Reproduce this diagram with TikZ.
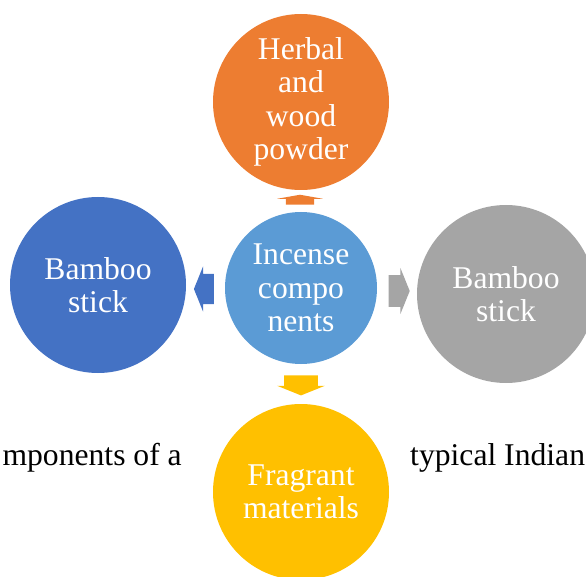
\documentclass[tikz,border=0pt]{standalone}
\usepackage{fontspec}
\setmainfont{Liberation Serif}
\usetikzlibrary{shapes.arrows}
\definecolor{cOrange}{HTML}{ED7D31}
\definecolor{cBlue}{HTML}{5B9BD5}
\definecolor{cDarkBlue}{HTML}{4472C4}
\definecolor{cGray}{HTML}{A5A5A5}
\definecolor{cGold}{HTML}{FFC000}

\begin{document}
\begin{tikzpicture}[
  bubble/.style={circle, inner sep=0pt, text=white, align=center,
    font=\fontsize{27}{28.5}\selectfont},
  blockarr/.style={single arrow, draw=none, inner xsep=0pt, inner ysep=0.45cm,
    single arrow head extend=0.22cm, single arrow tip angle=136},
  caption/.style={font=\fontsize{27}{30}\selectfont, inner sep=0pt}
]
  \useasboundingbox (0,0) rectangle (17.58,17.28);
  % caption text behind the figure
  \node [caption, anchor=base east] (capL) at (5.46, 3.33) {mponents of a};
  \node [caption, anchor=base west] (capR) at (12.3, 3.33) {typical Indian};
  % circles
  \node [bubble, fill=cOrange, minimum size=5.28cm] (herbal) at (9.03, 14.22) {Herbal\\and\\wood\\powder};
  \node [bubble, fill=cBlue, minimum size=4.56cm] (incense) at (9.03, 8.64) {Incense\\compo\\nents};
  \node [bubble, fill=cDarkBlue, minimum size=5.28cm] (stickL) at (2.94, 8.73) {Bamboo\\stick};
  \node [bubble, fill=cGray, minimum size=5.34cm] (stickR) at (15.18, 8.46) {Bamboo\\stick};
  \node [bubble, fill=cGold, minimum size=5.28cm] (fragrant) at (9.03, 2.52) {Fragrant\\materials};
  % block arrows
  \node [blockarr, fill=cOrange, minimum height=0.3cm, inner ysep=0.42cm,
    single arrow head extend=0.255cm, single arrow tip angle=160,
    rotate=90] (aTop) at (9.0, 11.25) {};
  \node [blockarr, fill=cDarkBlue, minimum height=0.6cm, rotate=180] (aLeft) at (6.21, 8.61) {};
  \node [blockarr, fill=cGray, minimum height=0.63cm, inner ysep=0.47cm] (aRight) at (11.88, 8.55) {};
  \node [blockarr, fill=cGold, minimum height=0.6cm, inner ysep=0.5cm,
    single arrow head extend=0.21cm, rotate=-90] (aBottom) at (9.03, 5.82) {};
\end{tikzpicture}
\end{document}
